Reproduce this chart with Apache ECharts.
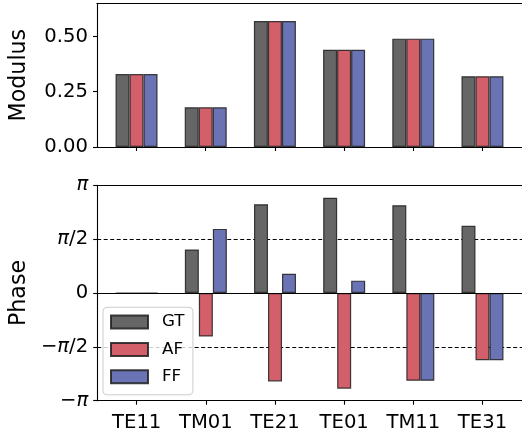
<!DOCTYPE html>
<html>
<head>
<meta charset="utf-8">
<script src="https://cdn.jsdelivr.net/npm/echarts@6/dist/echarts.min.js"></script>
<style>
  html, body { margin: 0; padding: 0; background: #fff; }
  #chart { width: 522px; height: 437px; }
</style>
</head>
<body>
<div id="chart"></div>
<script>
// Mode labels along the x axis
const categories = ['TE11', 'TM01', 'TE21', 'TE01', 'TM11', 'TE31'];

// Modulus per mode
const modulusGT = [0.33, 0.18, 0.57, 0.44, 0.49, 0.32];
const modulusAF = [0.33, 0.18, 0.57, 0.44, 0.49, 0.32];
const modulusFF = [0.33, 0.18, 0.57, 0.44, 0.49, 0.32];

// Phase per mode (radians)
const phaseGT = [0, 1.27, 2.59, 2.78, 2.56, 1.96];
const phaseAF = [0, -1.27, -2.58, -2.79, -2.56, -1.96];
const phaseFF = [0, 1.87, 0.56, 0.36, -2.56, -1.96];

// Tick labels
const modulusTicks = [0, 0.25, 0.5];
const phaseTicks = [-Math.PI, -Math.PI / 2, 0, Math.PI / 2, Math.PI];
const phaseTickLabels = ['\u2212{i|\u03c0}', '\u2212{i|\u03c0}/2', '0', '{i|\u03c0}/2', '{i|\u03c0}'];

const FONT = 'DejaVu Sans';
const colors = { GT: '#666666', AF: '#d35f6b', FF: '#6a73b3' };
const xIdx = categories.map((_, i) => i);
const toPairs = arr => arr.map((v, i) => [i, v]);

const xMin = -0.5714, xMax = 5.5714;

function xAxisBase(gridIndex, withLabels) {
  return {
    type: 'value', gridIndex, min: xMin, max: xMax, position: 'bottom',
    axisLine: { show: true, onZero: false, lineStyle: { color: '#000', width: 1.1 } },
    axisTick: { show: true, length: 4, customValues: xIdx, lineStyle: { color: '#000', width: 1.1 } },
    axisLabel: {
      show: withLabels, customValues: xIdx, margin: 12,
      color: '#000', fontFamily: FONT, fontSize: 19.6,
      formatter: v => categories[Math.round(v)]
    },
    splitLine: { show: false }
  };
}
function topSpine(gridIndex) {
  return {
    type: 'value', gridIndex, min: xMin, max: xMax, position: 'top',
    axisLine: { show: true, onZero: false, lineStyle: { color: '#000', width: 1.1 } },
    axisTick: { show: false }, axisLabel: { show: false }, splitLine: { show: false }
  };
}

function barSeries(name, data, xAxisIndex, yAxisIndex) {
  return {
    name, type: 'bar', xAxisIndex, yAxisIndex, data: toPairs(data),
    barWidth: 14, barGap: '0%', z: 3,
    itemStyle: { color: colors[name], borderColor: 'rgba(30,30,30,0.85)', borderWidth: 1.2 }
  };
}

function refLine(name, value, style, z) {
  return {
    name, type: 'line', xAxisIndex: 1, yAxisIndex: 1, data: [], z,
    markLine: {
      silent: true, symbol: ['none', 'none'], z, animation: false,
      label: { show: false },
      data: [{ yAxis: value, lineStyle: style }]
    }
  };
}

const dashed = { type: [4, 2.5], color: '#000', width: 1.1 };

const chart = echarts.init(document.getElementById('chart'), null, { renderer: 'canvas' });
chart.setOption({
  animation: false,
  backgroundColor: '#ffffff',
  grid: [
    { left: 95, top: 3.3, width: 430, height: 143.7 },
    { left: 95, top: 185.3, width: 430, height: 215.4 }
  ],
  xAxis: [
    xAxisBase(0, false),
    xAxisBase(1, true),
    topSpine(0),
    topSpine(1)
  ],
  yAxis: [
    {
      type: 'value', gridIndex: 0, min: 0, max: 0.65,
      name: 'Modulus', nameLocation: 'middle', nameRotate: 90, nameGap: 67,
      nameTextStyle: { color: '#000', fontFamily: FONT, fontSize: 22.2 },
      axisLine: { show: true, onZero: false, lineStyle: { color: '#000', width: 1.1 } },
      axisTick: { show: true, length: 4, customValues: modulusTicks, lineStyle: { color: '#000', width: 1.1 } },
      axisLabel: {
        customValues: modulusTicks, margin: 9, color: '#000', fontFamily: FONT, fontSize: 19.6,
        formatter: v => v.toFixed(2)
      },
      splitLine: { show: false }
    },
    {
      type: 'value', gridIndex: 1, min: -Math.PI, max: Math.PI,
      name: 'Phase', nameLocation: 'middle', nameRotate: 90, nameGap: 67,
      nameTextStyle: { color: '#000', fontFamily: FONT, fontSize: 22.2 },
      axisLine: { show: true, onZero: false, lineStyle: { color: '#000', width: 1.1 } },
      axisTick: { show: true, length: 4, customValues: phaseTicks, lineStyle: { color: '#000', width: 1.1 } },
      axisLabel: {
        customValues: phaseTicks, margin: 9, color: '#000', fontFamily: FONT, fontSize: 19.6,
        formatter: v => phaseTickLabels[Math.round(v / (Math.PI / 2)) + 2],
        rich: { i: { fontStyle: 'italic', fontFamily: FONT, fontSize: 19.6, color: '#000' } }
      },
      splitLine: { show: false }
    }
  ],
  legend: {
    orient: 'vertical', left: 103, top: 307.3,
    data: ['GT', 'AF', 'FF'],
    icon: 'rect', itemWidth: 37, itemHeight: 13, itemGap: 10.4,
    padding: [6.2, 8.4, 9.5, 7],
    backgroundColor: 'rgba(255,255,255,0.8)', borderColor: '#cccccc', borderWidth: 1, borderRadius: 4,
    textStyle: { color: '#000', fontFamily: FONT, fontSize: 16.7, lineHeight: 13, padding: [0, 0, 0, 9] },
    z: 10
  },
  series: [
    barSeries('GT', modulusGT, 0, 0),
    barSeries('AF', modulusAF, 0, 0),
    barSeries('FF', modulusFF, 0, 0),
    barSeries('GT', phaseGT, 1, 1),
    barSeries('AF', phaseAF, 1, 1),
    barSeries('FF', phaseFF, 1, 1),
    // dashed guides at ±π/2 sit beneath the bars, the zero line on top of them
    refLine('halfPiUp', Math.PI / 2, dashed, 1),
    refLine('halfPiDown', -Math.PI / 2, dashed, 1),
    refLine('zero', 0, { type: 'solid', color: '#000', width: 1 }, 4)
  ]
});
</script>
</body>
</html>
